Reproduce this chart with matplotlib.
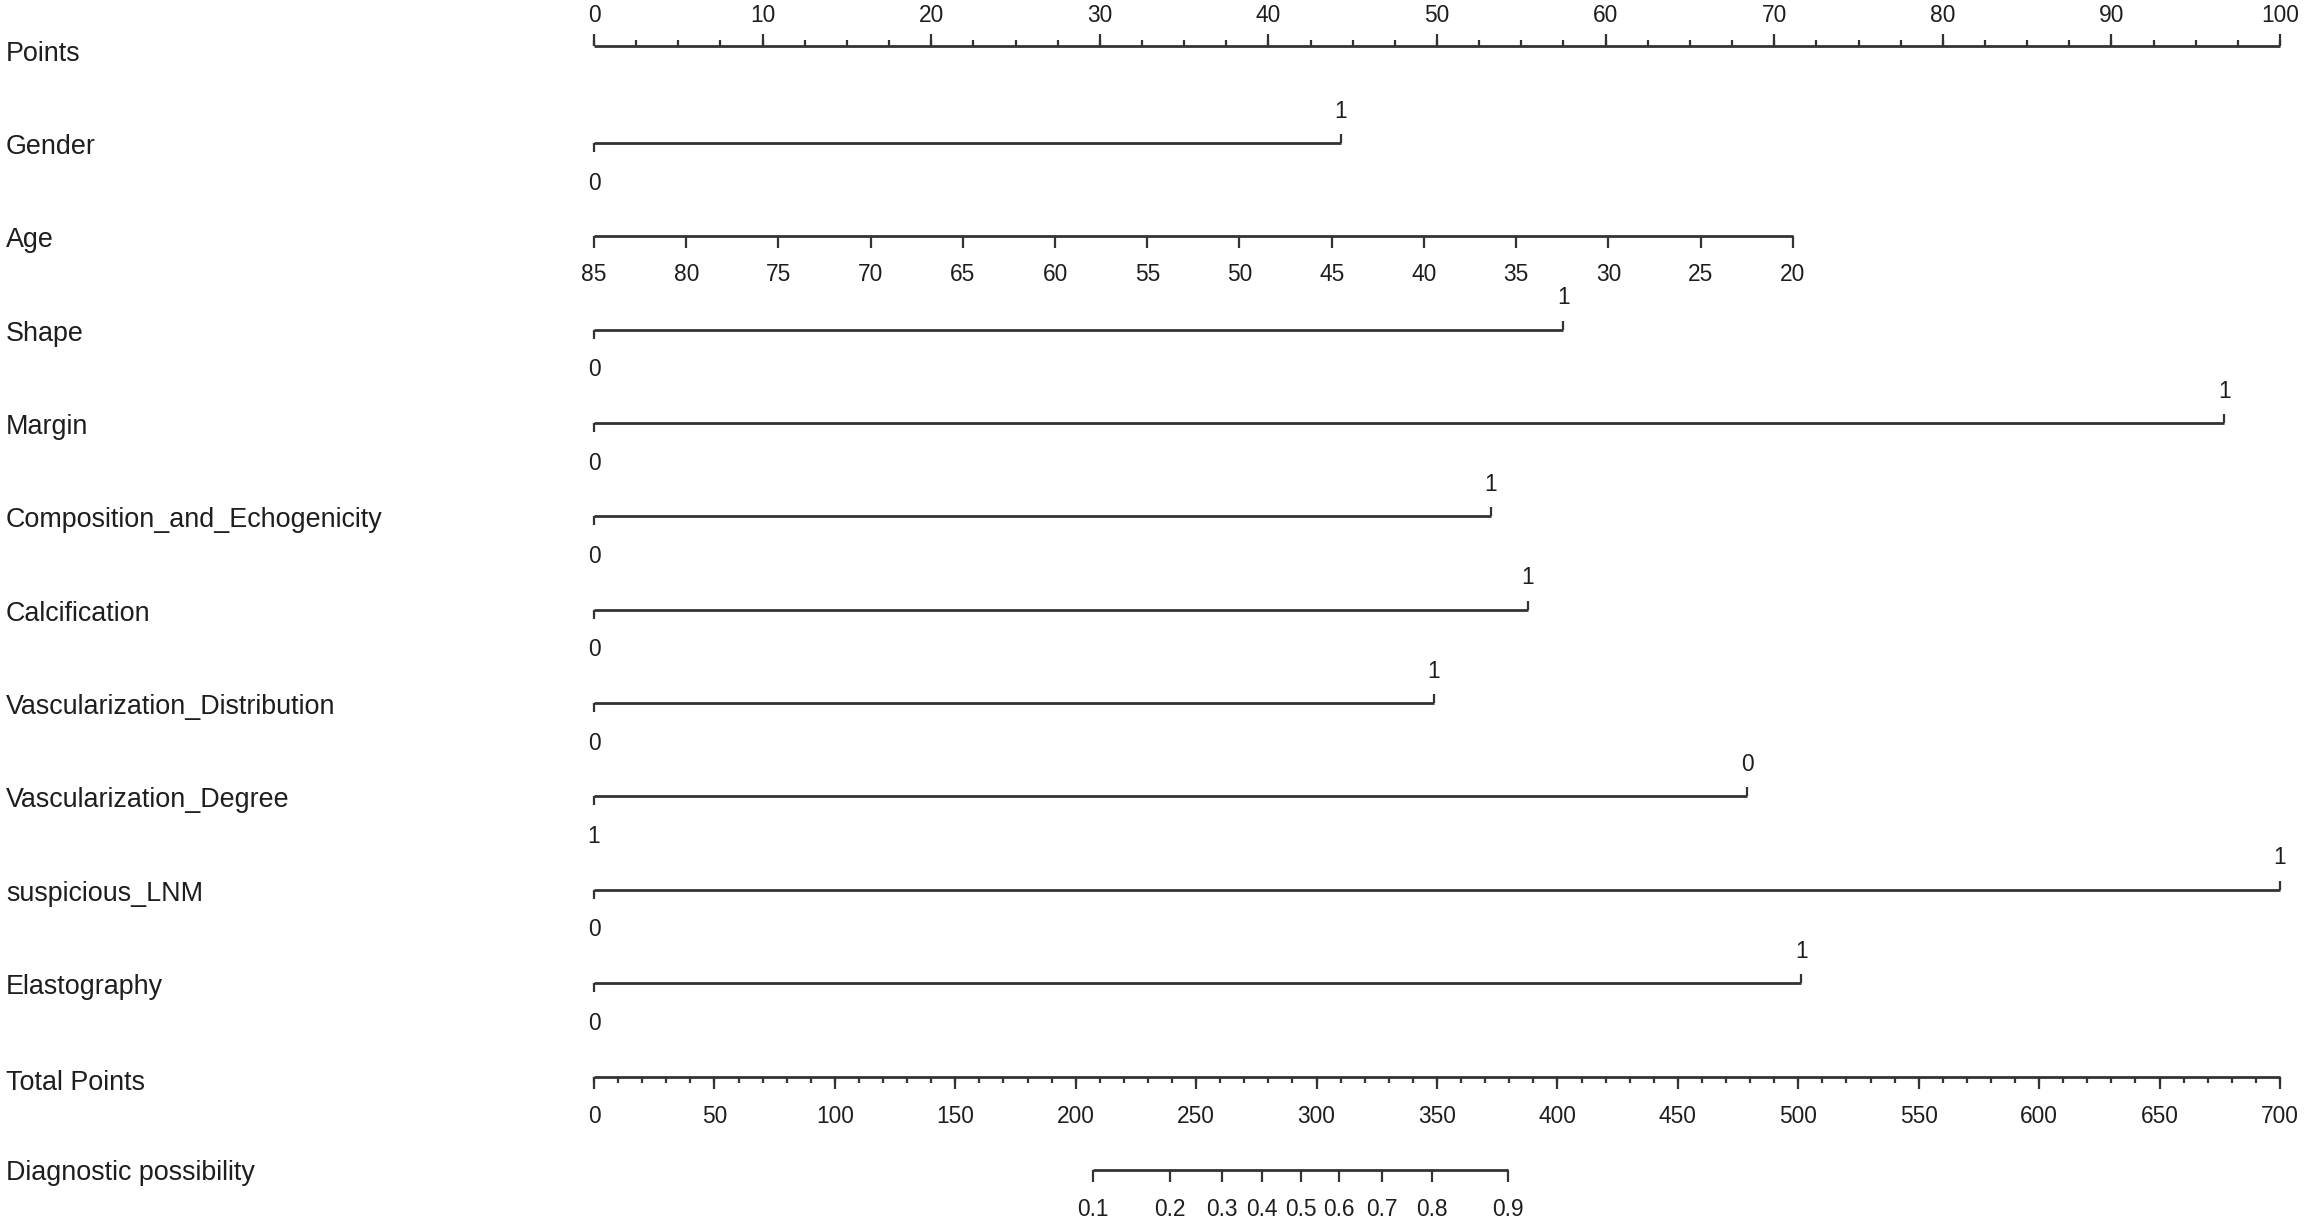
import matplotlib
matplotlib.use("Agg")
import matplotlib.pyplot as plt

# ---------------- data ----------------
points_ticks = [0, 10, 20, 30, 40, 50, 60, 70, 80, 90, 100]

age_tick_values = [85, 80, 75, 70, 65, 60, 55, 50, 45, 40, 35, 30, 25, 20]
age_points_at_max = 0.0      # points at age 85
age_points_at_min = 71.1     # points at age 20

row_names = ["Gender", "Age", "Shape", "Margin", "Composition_and_Echogenicity",
             "Calcification", "Vascularization_Distribution",
             "Vascularization_Degree", "suspicious_LNM", "Elastography"]

binary_names = ["Gender", "Shape", "Margin", "Composition_and_Echogenicity",
                "Calcification", "Vascularization_Distribution",
                "Vascularization_Degree", "suspicious_LNM", "Elastography"]
binary_points = [44.3, 57.5, 96.7, 53.2, 55.4, 49.8, 68.4, 100.0, 71.6]
binary_left_label = ["0", "0", "0", "0", "0", "0", "1", "0", "0"]
binary_right_label = ["1", "1", "1", "1", "1", "1", "0", "1", "1"]

total_ticks = [0, 50, 100, 150, 200, 250, 300, 350, 400, 450, 500, 550, 600, 650, 700]
total_max = 700

prob_labels = ["0.1", "0.2", "0.3", "0.4", "0.5", "0.6", "0.7", "0.8", "0.9"]
prob_total_points = [207.2, 239.1, 260.7, 277.4, 293.5, 309.3, 327.2, 347.9, 379.5]

# ---------------- layout ----------------
W, H = 2304, 1226
X0PX, X100PX = 594, 2280           # pixel positions of 0 and 100 points
ppx = 100.0 / (X100PX - X0PX)

fig = plt.figure(figsize=(W / 100, H / 100), dpi=100)
ax = fig.add_axes([0, 0, 1, 1])
ax.set_xlim(-X0PX * ppx, (W - X0PX) * ppx)
ax.set_ylim(H, 0)
ax.axis("off")

FONT = "Liberation Sans"
VAR_FS = 19.4
AX_FS = 16.4
LC = "#333333"
TC = "#1e1e1e"
LW = 2.0
label_x = -X0PX * ppx + 6 * ppx

row_step = 93.35
line_y0 = 46.0
LABEL_DY = 4.0


def label(y, txt):
    ax.text(label_x, y, txt, ha="left", va="center", fontsize=VAR_FS,
            family=FONT, color=TC)


def hline(x1, x2, y):
    ax.plot([x1, x2], [y, y], color=LC, lw=LW, solid_capstyle="butt")


def tick(x, y, length):
    ax.plot([x, x], [y, y + length], color=LC, lw=LW * 0.8, solid_capstyle="butt")


def tlabel(x, y, txt):
    ax.text(x, y, txt, ha="center", va="center", fontsize=AX_FS,
            family=FONT, color=TC)


# ---- Points axis ----
y_line = line_y0
label(y_line + 8, "Points")
minor = [i * 2.5 for i in range(41)]
hline(0, 100, y_line)
for m in minor:
    tick(m, y_line, -6)
for t in points_ticks:
    tick(t, y_line, -12)
    tlabel(t, y_line - 30, str(t))

# ---- variable rows ----
for i, name in enumerate(row_names):
    y_line = line_y0 + 97 + i * row_step
    label(y_line + LABEL_DY, name)
    if name == "Age":
        x_left = age_points_at_max
        x_right = age_points_at_min
        hline(x_left, x_right, y_line)
        a_hi, a_lo = age_tick_values[0], age_tick_values[-1]
        for a in age_tick_values:
            x = x_left + (a_hi - a) / (a_hi - a_lo) * (x_right - x_left)
            tick(x, y_line, 12)
            tlabel(x, y_line + 38, str(a))
    else:
        j = binary_names.index(name)
        xr = binary_points[j]
        hline(0, xr, y_line)
        tick(0, y_line, 9)
        tick(xr, y_line, -9)
        tlabel(0, y_line + 40, binary_left_label[j])
        tlabel(xr, y_line - 32, binary_right_label[j])

# ---- Total Points ----
y_line = line_y0 + 97 + 10 * row_step
label(y_line + 6, "Total Points")
scale = 100.0 / total_max
hline(0, total_max * scale, y_line)
for m in range(0, total_max + 1, 10):
    tick(m * scale, y_line, 6)
for t in total_ticks:
    tick(t * scale, y_line, 12)
    tlabel(t * scale, y_line + 40, str(t))

# ---- Diagnostic possibility ----
y_line = line_y0 + 97 + 11 * row_step
label(y_line + 3, "Diagnostic possibility")
xs = [p * scale for p in prob_total_points]
hline(xs[0], xs[-1], y_line)
for x, t in zip(xs, prob_labels):
    tick(x, y_line, 12)
    tlabel(x, y_line + 40, t)

fig.savefig("out.png", dpi=100)
